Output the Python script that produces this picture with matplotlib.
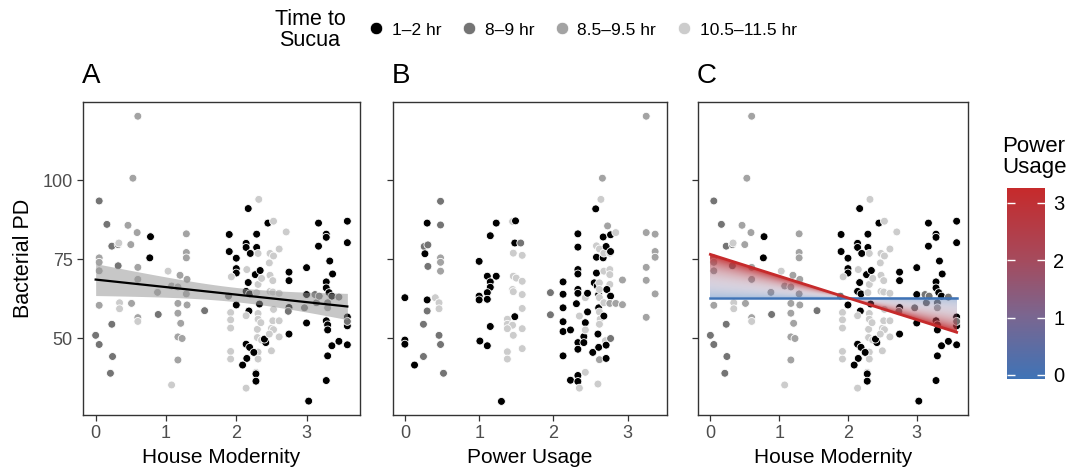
# Bacterial PD vs house modernity / power usage, three panels

import numpy as np
import matplotlib.pyplot as plt
from matplotlib.colors import LinearSegmentedColormap, Normalize
from matplotlib.cm import ScalarMappable
from matplotlib.lines import Line2D

plt.rcParams['font.family'] = ['Liberation Sans', 'DejaVu Sans']

# groups (time to Sucua)
group_labels = ['1–2 hr', '8–9 hr', '8.5–9.5 hr', '10.5–11.5 hr']
group_colors = ['#000000', '#747474', '#A3A3A3', '#CCCCCC']

# panel A and C: house modernity, bacterial PD, group index
modernity = [0.60, 0.53, 0.05, 0.16, 0.46, 0.59, 0.78, 0.77, 0.05, 0.05, 0.05, 0.23, 0.32, 0.33, 0.50, 0.32,
             0.60, 0.60, 0.05, 0.34, 0.34, 0.51, 0.60, 0.60, 0.00, 0.05, 0.23, 0.24, 0.21, 0.88, 0.89, 1.03,
             1.08, 1.20, 1.08, 1.17, 1.29, 1.29, 1.29, 1.30, 1.29, 1.17, 1.30, 1.17, 1.21, 1.17, 1.23, 1.17,
             1.55,
             1.90, 1.90, 2.17, 2.00, 2.00, 2.00, 2.00, 1.89, 2.14, 2.14, 2.20, 2.29, 2.29, 2.27, 2.34, 2.45,
             2.32, 2.15, 2.31, 2.17, 2.14, 2.19, 2.18, 2.33, 2.31, 2.36, 2.29, 2.31, 2.31, 2.30, 2.35, 2.30,
             2.36, 2.31, 2.31, 2.28, 2.28, 2.28, 2.14, 2.14, 2.19, 2.25, 2.15, 2.09, 2.42, 2.40, 1.93, 1.92,
             1.92, 1.92, 1.92, 1.92, 2.14, 2.48, 2.53, 2.53, 2.47, 2.48, 2.52, 2.48, 2.52, 2.61, 2.53, 2.52,
             2.61, 2.50, 2.53, 2.47, 2.61, 2.50, 2.61, 2.71, 2.75, 2.75, 2.75, 2.75, 2.74,
             3.00, 3.00, 3.00, 2.97, 3.03, 3.12, 3.14, 3.17, 3.17, 3.18, 3.28, 3.28, 3.33, 3.37, 3.28, 3.28,
             3.32, 3.36, 3.30, 3.30, 3.28, 3.30, 3.30, 3.30, 3.36, 3.28, 3.46, 3.46, 3.58, 3.58, 3.58, 3.58,
             3.58, 3.58]
pd_a = [120.2, 100.6, 93.4, 86.0, 85.7, 83.4, 82.1, 75.4, 75.4, 74.0, 71.3, 79.1, 79.6, 80.1, 79.6, 72.9,
        72.4, 68.6, 60.4, 61.2, 59.3, 61.0, 56.5, 55.3, 50.9, 48.0, 54.4, 44.2, 38.9, 64.5, 57.5, 71.2,
        35.2, 69.9, 66.5, 66.2, 83.0, 77.1, 75.4, 68.6, 64.0, 61.0, 60.5, 57.9, 54.7, 50.4, 49.9, 43.1,
        58.7,
        82.8, 77.4, 91.0, 75.3, 72.0, 70.6, 60.5, 63.3, 80.0, 78.7, 76.8, 82.9, 78.7, 70.1, 71.4, 86.4,
        93.9, 71.7, 76.8, 67.6, 64.8, 64.0, 58.6, 60.8, 67.0, 68.9, 64.4, 57.8, 56.0, 52.8, 54.9, 50.2,
        49.4, 45.6, 43.4, 39.2, 38.7, 36.4, 34.2, 48.1, 47.1, 45.5, 43.6, 41.5, 48.6, 49.7, 69.4, 58.1,
        55.8, 53.2, 45.8, 43.4, 57.1, 76.8, 76.0, 87.0, 73.8, 69.9, 68.2, 64.8, 64.6, 64.2, 59.1, 55.5,
        55.5, 53.1, 52.7, 51.3, 50.4, 46.0, 78.2, 83.6, 70.9, 68.2, 59.7, 51.3, 58.5,
        72.3, 63.8, 54.8, 59.6, 30.1, 63.8, 61.2, 79.1, 86.4, 63.3, 82.9, 81.9, 74.4, 70.3, 67.8, 65.9,
        64.4, 63.3, 61.2, 59.6, 55.5, 54.2, 52.6, 44.4, 47.6, 36.6, 63.0, 49.0, 87.0, 80.2, 56.7, 53.9,
        47.9, 55.3]
grp_a = [2, 2, 1, 1, 2, 2, 0, 0, 2, 2, 2, 1, 1, 3, 2, 1,
         2, 2, 2, 3, 3, 2, 2, 3, 1, 1, 1, 1, 1, 2, 1, 3,
         3, 2, 2, 2, 2, 2, 2, 2, 2, 2, 2, 2, 2, 2, 2, 2,
         1,
         0, 0, 0, 0, 0, 0, 0, 1, 0, 0, 0, 0, 0, 0, 0, 0,
         3, 3, 3, 0, 0, 0, 0, 0, 3, 3, 3, 3, 3, 3, 3, 3,
         3, 3, 3, 3, 0, 0, 3, 0, 0, 0, 0, 0, 0, 0, 3, 3,
         3, 3, 3, 3, 3, 3, 3, 3, 3, 3, 3, 3, 3, 3, 3, 3,
         3, 3, 3, 3, 3, 3, 3, 3, 0, 0, 0, 0, 1,
         0, 0, 0, 1, 0, 1, 1, 0, 0, 1, 0, 0, 0, 0, 0, 0,
         0, 0, 1, 2, 0, 0, 0, 0, 0, 0, 1, 0, 0, 0, 0, 0,
         0, 1]

# panel B: power usage, bacterial PD, group index
power = [0.00, 0.00, 0.00, 0.13, 0.30, 0.26, 0.31, 0.27, 0.31, 0.30, 0.30, 0.25, 0.25, 0.48, 0.48, 0.48,
         0.48, 0.48, 0.41, 0.46, 0.46, 0.46, 0.48, 0.52,
         1.00, 1.00, 1.00, 1.01, 1.11, 1.15, 1.15, 1.11, 1.11, 1.23, 1.15, 1.11, 1.15, 1.23, 1.30, 1.45,
         1.49, 1.48, 1.56, 1.46, 1.58, 1.46, 1.50, 1.58, 1.45, 1.46, 1.58, 1.58, 1.48, 1.38, 1.38, 1.45,
         1.38, 1.46, 1.58, 1.38, 1.38, 1.58,
         1.96, 1.96, 2.13, 2.13, 2.13, 2.13, 2.13, 2.13, 2.23, 2.23, 2.33, 2.33, 2.33, 2.33, 2.33, 2.33,
         2.31, 2.33, 2.33, 2.33, 2.33, 2.35, 2.41, 2.41, 2.43, 2.43, 2.43, 2.35, 2.43, 2.46, 2.46, 2.53,
         2.57, 2.58, 2.58, 2.58, 2.55, 2.59, 2.61, 2.61, 2.60, 2.60, 2.62, 2.62, 2.62, 2.62, 2.62, 2.63,
         2.62, 2.62, 2.61, 2.66, 2.64, 2.67, 2.67, 2.68, 2.68, 2.68, 2.68, 2.70, 2.71, 2.71, 2.71, 2.73,
         2.76, 2.77, 2.77, 2.76, 2.76, 2.76, 2.72, 2.77, 2.76, 2.77, 2.84, 2.84, 2.93, 2.93,
         3.25, 3.25, 3.37, 3.37, 3.37, 3.25, 3.25, 3.37, 3.25]
pd_b = [62.8, 49.4, 48.1, 41.5, 86.4, 79.0, 79.5, 76.7, 72.7, 62.1, 58.6, 54.4, 44.2, 93.3, 85.8, 75.4,
        74.0, 71.2, 62.8, 61.2, 59.3, 50.9, 48.0, 38.9,
        74.3, 63.3, 62.1, 49.1, 69.6, 67.8, 66.1, 64.4, 62.3, 69.6, 53.7, 47.6, 82.4, 86.4, 30.0, 86.9,
        87.1, 80.1, 80.1, 76.9, 76.2, 69.6, 69.0, 68.0, 65.4, 64.7, 63.8, 59.4, 56.8, 56.0, 54.4, 54.1,
        53.0, 50.9, 53.0, 45.7, 43.4, 46.7,
        64.4, 57.4, 67.8, 63.9, 59.6, 55.2, 52.1, 44.4, 52.6, 36.7, 83.0, 78.8, 71.7, 70.3, 65.4, 64.2,
        60.9, 48.6, 46.5, 38.2, 36.3, 34.2, 50.5, 48.6, 54.9, 52.6, 62.8, 57.0, 39.2, 58.3, 64.2, 45.5,
        90.9, 79.2, 75.6, 70.6, 67.5, 66.5, 63.8, 59.6, 51.3, 35.5, 78.2, 67.5, 65.4, 62.8, 58.3, 56.0,
        54.4, 43.2, 47.1, 100.6, 93.9, 82.0, 75.4, 76.9, 71.2, 61.2, 57.0, 49.2, 79.0, 47.8, 43.6, 85.5,
        76.9, 82.7, 77.4, 71.7, 70.1, 67.0, 65.4, 63.3, 61.0, 49.9, 83.4, 61.0, 68.4, 60.6,
        120.2, 83.4, 82.9, 77.4, 75.6, 72.4, 68.3, 64.0, 56.6]
grp_b = [0, 0, 0, 0, 0, 1, 1, 0, 1, 0, 1, 1, 1, 1, 1, 2,
         2, 2, 3, 3, 3, 1, 1, 1,
         0, 0, 0, 0, 0, 0, 0, 0, 0, 0, 0, 0, 0, 0, 0, 3,
         0, 0, 1, 3, 3, 3, 3, 3, 3, 3, 3, 3, 0, 3, 3, 3,
         3, 3, 3, 3, 3, 3,
         1, 1, 0, 0, 0, 0, 0, 0, 0, 0, 0, 0, 0, 0, 0, 0,
         0, 0, 0, 0, 0, 3, 0, 0, 0, 3, 3, 3, 3, 0, 0, 0,
         0, 3, 0, 0, 0, 0, 0, 0, 0, 3, 3, 3, 3, 3, 3, 3,
         3, 2, 0, 2, 3, 0, 0, 3, 3, 3, 0, 3, 0, 0, 0, 2,
         3, 0, 0, 3, 3, 3, 0, 0, 2, 1, 3, 2, 2, 2,
         2, 2, 2, 2, 2, 2, 2, 2, 2]

# panel C interaction model: PD = b0 + (b_power + b_inter * modernity) * power
b0 = 62.8
b_power = 4.2
b_inter = -2.11
power_min, power_max = -0.07, 3.26

cmap = LinearSegmentedColormap.from_list(
    'power', [(0.0, '#3F73B6'), (0.33, '#7A6690'), (0.63, '#A64A5C'), (1.0, '#C62A2B')])

W, H = 1073, 474
fig = plt.figure(figsize=(W / 100, H / 100), dpi=100)

def box(l, r, t, b):
    return [l / W, 1 - b / H, (r - l) / W, (b - t) / H]

axA = fig.add_axes(box(83, 360, 102, 415))
axB = fig.add_axes(box(393, 667, 102, 415))
axC = fig.add_axes(box(698, 968, 102, 415))

def style(ax, xlim, letter, xlabel):
    ax.set_xlim(*xlim)
    ax.set_ylim(25.7, 124.7)
    ax.set_xticks([0, 1, 2, 3])
    ax.set_yticks([50, 75, 100])
    for s in ax.spines.values():
        s.set_color('#333333')
        s.set_linewidth(1.0)
    ax.tick_params(direction='out', length=4, width=0.9, color='#333333',
                   labelcolor='#4D4D4D', labelsize=13)
    ax.set_xlabel(xlabel, fontsize=15, labelpad=4)
    ax.text(-0.005, 1.04, letter, transform=ax.transAxes, fontsize=20, ha='left', va='bottom')

pt_cols_a = [group_colors[g] for g in grp_a]
pt_cols_b = [group_colors[g] for g in grp_b]

# A
axA.scatter(modernity, pd_a, s=32, c=pt_cols_a, edgecolors='white', linewidths=0.6, zorder=2)
x = np.array(modernity)
y = np.array(pd_a)
slope, icpt = np.polyfit(x, y, 1)
n = len(x)
resid = y - (icpt + slope * x)
s_err = np.sqrt(np.sum(resid ** 2) / (n - 2))
xs = np.linspace(x.min(), x.max(), 100)
fit = icpt + slope * xs
se = s_err * np.sqrt(1 / n + (xs - x.mean()) ** 2 / np.sum((x - x.mean()) ** 2))
axA.fill_between(xs, fit - 1.97 * se, fit + 1.97 * se, color='#999999', alpha=0.55, lw=0, zorder=3)
axA.plot(xs, fit, color='black', lw=1.6, zorder=4)
style(axA, (-0.18, 3.76), 'A', 'House Modernity')
axA.set_ylabel('Bacterial PD', fontsize=15.5, labelpad=6)

# B
axB.scatter(power, pd_b, s=32, c=pt_cols_b, edgecolors='white', linewidths=0.6, zorder=2)
style(axB, (-0.16, 3.53), 'B', 'Power Usage')
axB.tick_params(labelleft=False)

# C
axC.scatter(modernity, pd_a, s=32, c=pt_cols_a, edgecolors='white', linewidths=0.6, zorder=2)
mx = max(modernity)
gx = np.linspace(0, mx, 500)
gy = np.linspace(45, 82, 500)
GX, GY = np.meshgrid(gx, gy)
with np.errstate(divide='ignore', invalid='ignore'):
    P = (GY - b0) / (b_power + b_inter * GX)
inside = (P >= 0) & (P <= power_max)
t = np.clip(P / power_max, 0, 1)
rgba = cmap(t)
rgba[..., 3] = np.where(inside, 0.45 * (1 - t) ** 2 + 0.92 * t ** 2, 0)
axC.imshow(rgba, extent=[0, mx, 45, 82], origin='lower', aspect='auto',
           interpolation='bilinear', zorder=3)
lx = np.array([0, mx])
axC.plot(lx, b0 + (b_power + b_inter * lx) * 0, color=cmap(0.0), lw=1.8, zorder=4)
axC.plot(lx, b0 + (b_power + b_inter * lx) * power_max, color=cmap(1.0), lw=2.0, zorder=5)
style(axC, (-0.18, 3.745), 'C', 'House Modernity')
axC.tick_params(labelleft=False)

# colour bar
cax = fig.add_axes(box(1007, 1045, 188, 379))
cb = fig.colorbar(ScalarMappable(norm=Normalize(power_min, power_max), cmap=cmap), cax=cax)
cb.outline.set_visible(False)
cb.set_ticks([0, 1, 2, 3])
cax.yaxis.set_ticks_position('both')
cax.tick_params(direction='in', length=6, width=1, color='white', labelsize=14.5,
                labelleft=False, labelright=True, pad=6)
fig.text(1002 / W, 1 - 136 / H, 'Power\nUsage', fontsize=16, ha='left', va='top', linespacing=1.0)

# legend
handles = [Line2D([], [], marker='o', ls='', markersize=9, markerfacecolor=c,
                  markeredgecolor='white', markeredgewidth=0.6) for c in group_colors]
fig.legend(handles, group_labels, ncol=4, loc='center left', bbox_to_anchor=(350 / W, 1 - 30 / H),
           frameon=False, fontsize=12.5, handletextpad=0.3, columnspacing=1.0, handlelength=1.2)
fig.text(310 / W, 1 - 30 / H, 'Time to\nSucua', fontsize=15.5, ha='center', va='center', linespacing=1.0)

fig.savefig('out.png', dpi=100, facecolor='white')
